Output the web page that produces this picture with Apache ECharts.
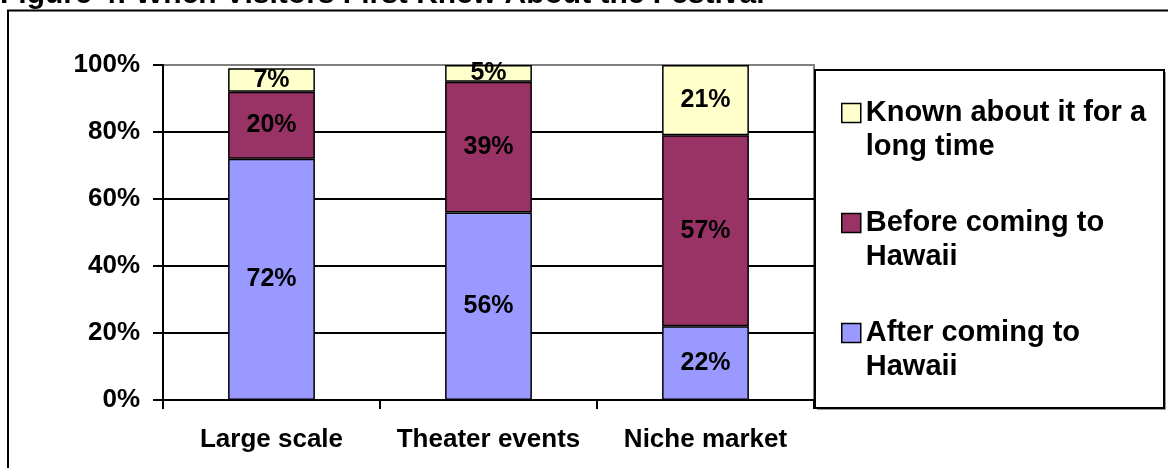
<!DOCTYPE html>
<html>
<head>
<meta charset="utf-8">
<title>When Visitors First Knew About the Festival</title>
<script src="https://cdn.jsdelivr.net/npm/echarts@6/dist/echarts.min.js"></script>
<style>
  html, body { margin: 0; padding: 0; background: #fff; }
  #chart { width: 1168px; height: 468px; }
</style>
</head>
<body>
<div id="chart"></div>
<script>
// Event types along the x axis
const categories = ['Large scale', 'Theater events', 'Niche market'];

// Share of visitors (%) per answer, stacked bottom to top
const afterComing = [72, 56, 22];
const beforeComing = [20, 39, 57];
const knownLongTime = [7, 5, 21];

// Series names as shown in the legend
const seriesNames = ['After coming to Hawaii', 'Before coming to Hawaii', 'Known about it for a long time'];
// Legend text broken the way the legend shows it
const legendLabels = {
  'Known about it for a long time': 'Known about it for a\nlong time',
  'Before coming to Hawaii': 'Before coming to\nHawaii',
  'After coming to Hawaii': 'After coming to\nHawaii'
};

// Y axis ticks
const yTicks = { min: 0, max: 100, step: 20 };

const FONT = "'Liberation Sans', Arial, Helvetica, sans-serif";
const colors = ['#9999FF', '#993366', '#FFFFCC'];

const chart = echarts.init(document.getElementById('chart'), null, { renderer: 'canvas' });

function barSeries(name, values, color) {
  return {
    name: name,
    type: 'bar',
    stack: 'total',
    barWidth: '40%',
    data: values,
    itemStyle: { color: color, borderColor: '#000', borderWidth: 1.5 },
    label: {
      show: true,
      position: 'inside',
      formatter: '{c}%',
      color: '#000',
      fontFamily: FONT,
      fontWeight: 'bold',
      fontSize: 25
    },
    emphasis: { disabled: true }
  };
}

const option = {
  animation: false,
  backgroundColor: '#fff',
  title: {
    text: 'Figure 4: When Visitors First Knew About the Festival',
    left: 0,
    top: -20,
    padding: 0,
    textStyle: { fontFamily: FONT, fontWeight: 'bold', fontSize: 30, color: '#000' }
  },
  graphic: [
    // outer frame of the figure
    { type: 'rect', z: 0, shape: { x: 8, y: 10.5, width: 1200, height: 500 },
      style: { fill: null, stroke: '#000', lineWidth: 2 } },
    // legend frame with its light shadow
    { type: 'rect', z: 1, shape: { x: 817, y: 72, width: 349, height: 338 },
      style: { fill: '#9a9a9a', stroke: null } },
    { type: 'rect', z: 2, shape: { x: 815, y: 70, width: 349, height: 338 },
      style: { fill: '#fff', stroke: '#000', lineWidth: 2 } }
  ],
  grid: {
    left: 163,
    right: 354,
    top: 65,
    bottom: 68,
    show: true,
    borderColor: '#808080',
    borderWidth: 2,
    backgroundColor: 'transparent'
  },
  legend: {
    orient: 'vertical',
    left: 836,
    top: 57,
    z: 5,
    itemGap: 8,
    itemWidth: 19,
    itemHeight: 19,
    icon: 'rect',
    selectedMode: false,
    data: ['Known about it for a long time', 'Before coming to Hawaii', 'After coming to Hawaii'],
    // blank first line keeps the icon level with the first text line
    formatter: name => ' \n' + legendLabels[name],
    itemStyle: { borderColor: '#000', borderWidth: 1.5 },
    textStyle: { fontFamily: FONT, fontWeight: 'bold', fontSize: 29, lineHeight: 34, color: '#000' }
  },
  xAxis: {
    type: 'category',
    data: categories,
    boundaryGap: true,
    axisLine: { lineStyle: { color: '#000', width: 2 } },
    axisTick: { show: true, interval: 0, length: 9, alignWithLabel: false, lineStyle: { color: '#000', width: 2 } },
    axisLabel: { interval: 0, hideOverlap: false, margin: 27, color: '#000', fontFamily: FONT, fontWeight: 'bold', fontSize: 26 },
    splitLine: { show: false }
  },
  yAxis: {
    type: 'value',
    min: yTicks.min,
    max: yTicks.max,
    interval: yTicks.step,
    axisLine: { show: true, lineStyle: { color: '#000', width: 2 } },
    axisTick: { show: true, length: 10, lineStyle: { color: '#000', width: 2 } },
    axisLabel: { margin: 23, formatter: '{value}%', color: '#000', fontFamily: FONT, fontWeight: 'bold', fontSize: 26 },
    splitLine: {
      show: true,
      lineStyle: { color: ['#000', '#000', '#000', '#000', '#000', '#808080'], width: 2 }
    }
  },
  series: [
    barSeries(seriesNames[0], afterComing, colors[0]),
    barSeries(seriesNames[1], beforeComing, colors[1]),
    barSeries(seriesNames[2], knownLongTime, colors[2])
  ]
};

chart.setOption(option);
</script>
</body>
</html>
